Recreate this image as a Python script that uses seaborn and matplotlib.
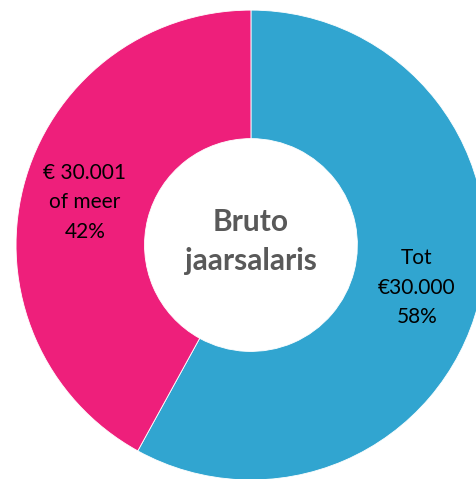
import matplotlib
matplotlib.use("Agg")
import matplotlib.pyplot as plt
import seaborn as sns

# Gegevens van de grafiek
categorieen = ["Tot\n€30.000", "€ 30.001\nof meer"]
percentages = [58, 42]
kleuren = ["#31A5D0", "#EE1F7B"]
titel_midden = "Bruto\njaarsalaris"

sns.set_theme(style="white")
plt.rcParams['font.family'] = ['Lato', 'DejaVu Sans']

fig = plt.figure(figsize=(4.77, 4.79), dpi=100)
ax = fig.add_axes([0, 0, 1, 1])

labels = [f"{c}\n{p}%" for c, p in zip(categorieen, percentages)]
ax.pie(
    percentages,
    labels=labels,
    colors=kleuren,
    startangle=90,
    counterclock=False,
    labeldistance=0.73,
    wedgeprops={'width': 0.547, 'edgecolor': 'white', 'linewidth': 0.6},
    textprops={'ha': 'center', 'va': 'center', 'fontsize': 15,
               'linespacing': 1.6, 'color': 'black'},
)

# Tekst in het midden van de donut
ax.text(0, 0.015, titel_midden, ha='center', va='center', fontsize=21.5,
        fontweight='bold', color='#595959', linespacing=1.45)

# Positie zodat de cirkel rechts iets buiten beeld valt, zoals het origineel
ax.set_xlim(-1.068, 0.962)
ax.set_ylim(-0.996, 1.043)
ax.axis('off')

fig.savefig("out.png", dpi=100)
